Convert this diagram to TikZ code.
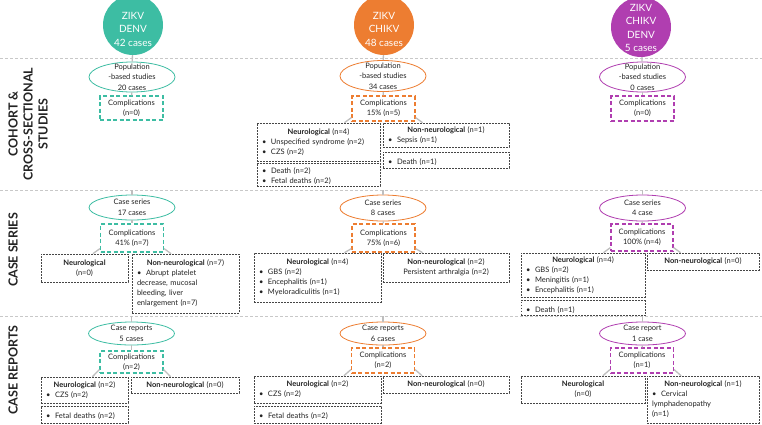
\documentclass[tikz,border=0pt]{standalone}
\usepackage{fontspec}
\setmainfont{Lato}
\usepackage{xcolor}
\usetikzlibrary{shapes.geometric, positioning, calc}

\definecolor{zdgreen}{RGB}{61,189,163}
\definecolor{zcorange}{RGB}{237,125,49}
\definecolor{zcdpurple}{RGB}{176,62,176}
\definecolor{linkgray}{RGB}{190,190,190}
\definecolor{rulegray}{RGB}{200,200,200}
\definecolor{boxgray}{RGB}{70,70,70}
\definecolor{inkgray}{RGB}{35,35,35}

\newcommand{\itm}{\par\hangindent=9pt\hangafter=1\makebox[9pt][l]{\textbullet}}
\newcommand{\hd}[1]{\makebox[\hsize][c]{#1}\par}
\newcommand{\branchL}[2]{\draw[link] ($(#1.south west)+(0,-4)$) -- ($(#1.south west |- #2.north)+(-7,0)$);}
\newcommand{\branchR}[2]{\draw[link] ($(#1.south east)+(0,-4)$) -- ($(#1.south east |- #2.north)+(7,0)$);}

\begin{document}
\begin{tikzpicture}[x=1pt, y=-1pt, text=inkgray,
    virus/.style={circle, fill=#1, minimum size=60pt, inner sep=0pt},
    vtext/.style={text=white, align=center, font=\fontsize{10}{13.5}\selectfont},
    study/.style={ellipse, draw=#1, fill=white, line width=0.8pt, minimum width=86pt, minimum height=30pt, inner sep=0pt},
    stext/.style={align=center, font=\fontsize{7.5}{10.5}\selectfont},
    compl/.style={draw=#1, fill=white, dash pattern=on 4pt off 2.5pt, line width=1.2pt, minimum width=63pt, minimum height=25pt, inner sep=0pt, align=center, font=\fontsize{7.5}{10}\selectfont},
    detail/.style={draw=boxgray, fill=white, dash pattern=on 1.8pt off 1.2pt, line width=0.6pt, inner xsep=5pt, inner ysep=1pt, text width=#1, align=left, font=\fontsize{7.5}{10}\selectfont},
    rowlab/.style={rotate=90, align=center, font=\fontsize{12.5}{15}\bfseries},
    rule/.style={draw=rulegray, dash pattern=on 3pt off 2pt, line width=0.7pt},
    link/.style={draw=linkgray, line width=1.3pt}]
\useasboundingbox (0,0) rectangle (762,424);

% section dividers
\coordinate (r1) at (0,58);
\coordinate (r2) at (0,190);
\coordinate (r3) at (0,316);
\foreach \r in {r1,r2,r3} {
    \draw[rule] (\r) -- ++(762,0);
}

% row labels
\node[rowlab] (lab1) at (28,124) {COHORT \&\\CROSS-SECTIONAL\\STUDIES};
\node[rowlab] (lab2) at (13,250) {CASE SERIES};
\node[rowlab] (lab3) at (13,370) {CASE REPORTS};

% ZIKV + DENV
\node[virus=zdgreen, label={[vtext, yshift=-4pt]center:ZIKV\\DENV\\42 cases}] (c1) at (133,25) {};
\node[study=zdgreen, label={[stext]center:Population\\-based studies\\20 cases}] (e11) at (132,77) {};
\node[compl=zdgreen, minimum height=24pt] (k11) at (131.5,108) {Complications\\(n=0)};

\node[study=zdgreen, minimum height=25pt, label={[stext]center:Case series\\17 cases}] (e12) at (132,207.5) {};
\node[compl=zdgreen, minimum height=28pt] (k12) at (132,238) {Complications\\41\% (n=7)};
\node[detail=77pt, minimum height=28pt] (n12) at (84.5,268) {\hd{\textbf{Neurological}}\hd{(n=0)}};
\node[detail=97pt, minimum height=59pt] (o12) at (185.5,283.5) {\hd{\textbf{Non-neurological} (n=7)}\itm Abrupt platelet\\decrease, mucosal\\bleeding, liver\\enlargement (n=7)};

\node[study=zdgreen, minimum height=23pt, label={[stext]center:Case reports\\5 cases}] (e13) at (131.5,333.5) {};
\node[compl=zdgreen, minimum height=22pt] (k13) at (131.5,362) {Complications\\(n=2)};
\node[detail=77pt, minimum height=26pt] (n13) at (84.5,390) {\hd{\textbf{Neurological} (n=2)}\itm CZS (n=2)};
\node[detail=77pt, minimum height=17pt] (f13) at (84.5,414.5) {\itm Fetal deaths (n=2)};
\node[detail=98pt, minimum height=16pt] (o13) at (185,385) {\hd{\textbf{Non-neurological} (n=0)}};

% ZIKV + CHIKV
\node[virus=zcorange, label={[vtext, yshift=-4pt]center:ZIKV\\CHIKV\\48 cases}] (c2) at (384,25) {};
\node[study=zcorange, minimum height=31pt, label={[stext]center:Population\\-based studies\\34 cases}] (e21) at (383,76) {};
\node[compl=zcorange] (k21) at (383.5,108.5) {Complications\\15\% (n=5)};
\node[detail=113pt, minimum height=38pt] (n21) at (318.5,142) {\hd{\textbf{Neurological} (n=4)}\itm Unspecified syndrome (n=2)\itm CZS (n=2)};
\node[detail=113pt, minimum height=23pt] (d21) at (318.5,174.5) {\itm Death (n=2)\itm Fetal deaths (n=2)};
\node[detail=116pt, minimum height=24pt] (o21) at (446,135) {\hd{\textbf{Non-neurological} (n=1)}\itm Sepsis (n=1)};
\node[detail=116pt, minimum height=16pt] (x21) at (446,160) {\itm Death (n=1)};

\node[study=zcorange, minimum height=26pt, label={[stext]center:Case series\\8 cases}] (e22) at (383,208) {};
\node[compl=zcorange, minimum height=28pt] (k22) at (383.5,238) {Complications\\75\% (n=6)};
\node[detail=117pt, minimum height=49pt] (n22) at (317.5,277.5) {\hd{\textbf{Neurological} (n=4)}\itm GBS (n=2)\itm Encephalitis (n=1)\itm Myeloradiculitis (n=1)};
\node[detail=116pt, minimum height=29pt] (o22) at (446,267.5) {\hd{\textbf{Non-neurological} (n=2)}\hd{Persistent arthralgia (n=2)}};

\node[study=zcorange, minimum height=23pt, label={[stext]center:Case reports\\6 cases}] (e23) at (383,333.5) {};
\node[compl=zcorange] (k23) at (383,360.5) {Complications\\(n=2)};
\node[detail=117pt, minimum height=27pt] (n23) at (317.5,389.5) {\hd{\textbf{Neurological} (n=2)}\itm CZS (n=2)};
\node[detail=117pt, minimum height=17pt] (f23) at (317.5,414.5) {\itm Fetal deaths (n=2)};
\node[detail=116pt, minimum height=17pt] (o23) at (446,384.5) {\hd{\textbf{Non-neurological} (n=0)}};

% ZIKV + CHIKV + DENV
\node[virus=zcdpurple, label={[vtext, yshift=-1pt]center:ZIKV\\CHIKV\\DENV\\5 cases}] (c3) at (641,27) {};
\node[study=zcdpurple, label={[stext]center:Population\\-based studies\\0 cases}] (e31) at (642.5,77) {};
\node[compl=zcdpurple] (k31) at (642.5,108.5) {Complications\\(n=0)};

\node[study=zcdpurple, minimum height=26pt, label={[stext]center:Case series\\4 case}] (e32) at (642.5,208) {};
\node[compl=zcdpurple, minimum width=62pt, minimum height=27pt] (k32) at (642,237.5) {Complications\\100\% (n=4)};
\node[detail=114pt, minimum height=44pt] (n32) at (583,275) {\hd{\textbf{Neurological} (n=4)}\itm GBS (n=2)\itm Meningitis (n=1)\itm Encephalitis (n=1)};
\node[detail=114pt, minimum height=15pt] (x32) at (583,308) {\itm Death (n=1)};
\node[detail=102pt, minimum height=17pt] (o32) at (703,261.5) {\hd{\textbf{Non-neurological} (n=0)}};

\node[study=zcdpurple, minimum height=23pt, label={[stext]center:Case report\\1 case}] (e33) at (642.5,333.5) {};
\node[compl=zcdpurple] (k33) at (642,360.5) {Complications\\(n=1)};
\node[detail=114pt, minimum height=27pt] (n33) at (583,389.5) {\hd{\textbf{Neurological}}\hd{(n=0)}};
\node[detail=102pt, minimum height=47pt] (o33) at (703,399.5) {\hd{\textbf{Non-neurological} (n=1)}\itm Cervical\\lymphadenopathy\\(n=1)};

% connectors
\draw[link] (c1) -- (e11);
\draw[link] (e11) -- (k11);
\draw[link] (c2) -- (e21);
\draw[link] (e21) -- (k21);
\draw[link] (c3) -- (e31);
\draw[link] (e31) -- (k31);
\foreach \c in {1,2,3} {
    \draw[link] (e\c2 |- r2) -- (e\c2);
    \draw[link] (e\c2) -- (k\c2);
    \draw[link] (e\c3 |- r3) -- (e\c3);
    \draw[link] (e\c3) -- (k\c3);
}
\branchL{k12}{n12} \branchR{k12}{o12}
\branchL{k13}{n13} \branchR{k13}{o13}
\branchL{k21}{n21} \branchR{k21}{o21}
\branchL{k22}{n22} \branchR{k22}{o22}
\branchL{k23}{n23} \branchR{k23}{o23}
\branchL{k32}{n32} \branchR{k32}{o32}
\branchL{k33}{n33} \branchR{k33}{o33}
\end{tikzpicture}
\end{document}
